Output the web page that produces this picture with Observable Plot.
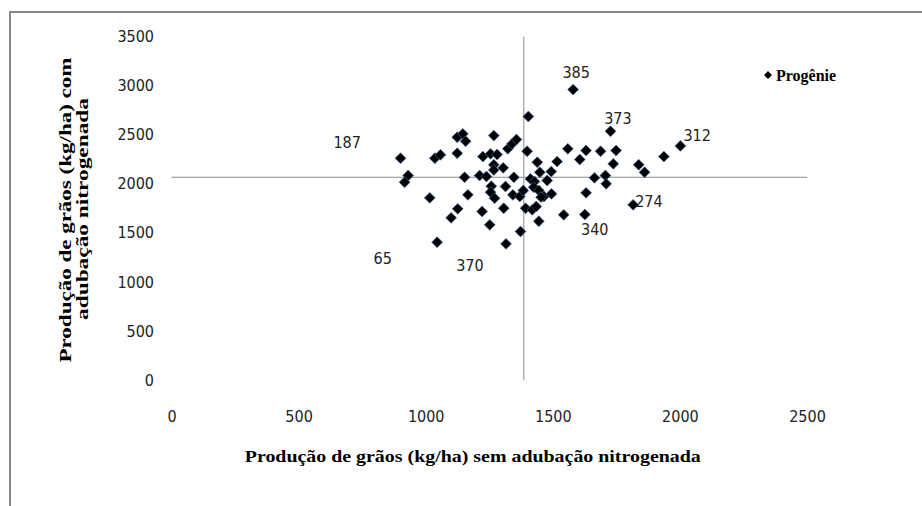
<!DOCTYPE html>
<html><head><meta charset="utf-8">
<script src="https://cdn.jsdelivr.net/npm/d3@7"></script>
<script src="https://cdn.jsdelivr.net/npm/@observablehq/plot@0.6"></script>
<style>body{margin:0;background:#fff} #chart{width:922px;height:506px;overflow:hidden}</style>
</head><body><div id="chart"></div>
<script>
// Produção de grãos (kg/ha) sem adubação nitrogenada
const semN = [899, 929, 915, 1014, 1034, 1056, 1122, 1144, 1155, 1122, 1151, 1164, 1124, 1098, 1043,
  1266, 1321, 1338, 1355, 1397, 1223, 1253, 1279, 1266, 1266, 1303, 1210, 1237, 1345, 1256,
  1253, 1269, 1312, 1341, 1368, 1382, 1437, 1447, 1492, 1515, 1557, 1410, 1426, 1476, 1423,
  1443, 1463, 1493, 1452, 1220, 1305, 1391, 1417, 1433, 1443, 1541, 1250, 1371, 1314,
  1578, 1402, 1725, 2000, 1935, 1604, 1629, 1686, 1747, 1736, 1836, 1859, 1662, 1705, 1708,
  1629, 1624, 1814];
// Produção de grãos (kg/ha) com adubação nitrogenada
const comN = [2266, 2090, 2021, 1862, 2266, 2301, 2480, 2515, 2439, 2317, 2072, 1893, 1750, 1658, 1410,
  2497, 2362, 2413, 2457, 2337, 2283, 2311, 2304, 2199, 2146, 2168, 2090, 2080, 2072, 1981,
  1920, 1858, 1978, 1893, 1876, 1937, 2225, 2123, 2130, 2232, 2362, 2056, 2029, 2039, 1970,
  1937, 1876, 1903, 1869, 1723, 1756, 1756, 1740, 1774, 1624, 1689, 1587, 1519, 1393,
  2966, 2691, 2541, 2392, 2283, 2253, 2345, 2337, 2345, 2209, 2199, 2123, 2066, 2090, 2005,
  1913, 1692, 1791];
const meanSem = 1384;
const meanCom = 2072;
const xTicks = [0, 500, 1000, 1500, 2000, 2500];
const yTicks = [0, 500, 1000, 1500, 2000, 2500, 3000, 3500];
const labelText = ["187", "65", "370", "385", "373", "312", "274", "340"];
const labelX = [689, 829, 1172, 1590, 1754, 2066, 1876, 1663];
const labelY = [2419, 1241, 1172, 3137, 2668, 2497, 1825, 1536];
const xTitle = "Produção de grãos (kg/ha) sem adubação nitrogenada";
const yTitle1 = "Produção de grãos (kg/ha) com";
const yTitle2 = "adubação nitrogenada";
const legendLabel = "Progênie";

const points = semN.map((x, i) => ({x, y: comN[i]}));
const labels = labelText.map((t, i) => ({t, x: labelX[i], y: labelY[i]}));
const sansFont = "'Liberation Sans Narrow', 'DejaVu Sans Condensed', Lato, sans-serif";
const serifFont = "'Liberation Serif', 'DejaVu Serif', serif";

const plot = Plot.plot({
  width: 922, height: 506,
  marginLeft: 171.5, marginRight: 115, marginTop: 36.7, marginBottom: 126,
  style: {background: "#fff", fontFamily: sansFont, color: "#222", overflow: "visible"},
  x: {domain: [0, 2500]},
  y: {domain: [0, 3500]},
  marks: [
    Plot.ruleY([meanCom], {x1: 0, x2: 2500, stroke: "#8c8c8c", strokeWidth: 1}),
    Plot.ruleX([meanSem], {y1: 0, y2: 3500, stroke: "#8c8c8c", strokeWidth: 1}),
    Plot.axisX({ticks: xTicks, tickSize: 0, tickPadding: 30, fontSize: 16, label: null, tickFormat: d => String(d)}),
    Plot.axisY({ticks: yTicks, tickSize: 0, tickPadding: 18, fontSize: 16, label: null, tickFormat: d => String(d)}),
    Plot.dot(points, {x: "x", y: "y", symbol: "diamond2", r: 4.9, fill: "#000", stroke: "#3d6aa8", strokeWidth: 0.7}),
    Plot.text(labels, {x: "x", y: "y", text: "t", fontSize: 16, fill: "#222"}),
    Plot.text([xTitle], {frameAnchor: "bottom", dx: -17, dy: 76, fontSize: 17, fontWeight: "bold", fontFamily: serifFont, fill: "#000", lineAnchor: "middle"})
  ]
});

const svg = d3.select(plot);
// stretch x title to the reference width
svg.selectAll("text").each(function() {
  if (this.textContent === xTitle) d3.select(this).attr("textLength", 456).attr("lengthAdjust", "spacingAndGlyphs");
});
// y-axis title (two rotated lines)
[[yTitle1, 65, 210, 305], [yTitle2, 82, 209, 222]].forEach(([t, x, y, len]) => {
  svg.append("text")
    .attr("transform", `translate(${x},${y}) rotate(-90)`)
    .attr("dy", "0.35em")
    .attr("textLength", len).attr("lengthAdjust", "spacingAndGlyphs")
    .style("text-anchor", "middle").style("font-family", serifFont)
    .style("font-weight", "bold").style("font-size", "17px").style("fill", "#000")
    .text(t);
});
// outer chart border (top and left visible)
svg.append("path").attr("d", "M10,506V12H922").attr("fill", "none").attr("stroke", "#878787").attr("stroke-width", 2);
// legend
const lg = svg.append("g").attr("transform", "translate(768,75)");
lg.append("path").attr("d", d3.symbol(d3.symbolDiamond2, 40)()).attr("fill", "#000");
lg.append("text").attr("x", 8).attr("y", 0).attr("dy", "0.35em")
  .style("text-anchor", "start").style("font-family", serifFont)
  .style("font-weight", "bold").style("font-size", "16px").style("fill", "#000").text(legendLabel);

document.getElementById("chart").appendChild(plot);
</script>
</body></html>
